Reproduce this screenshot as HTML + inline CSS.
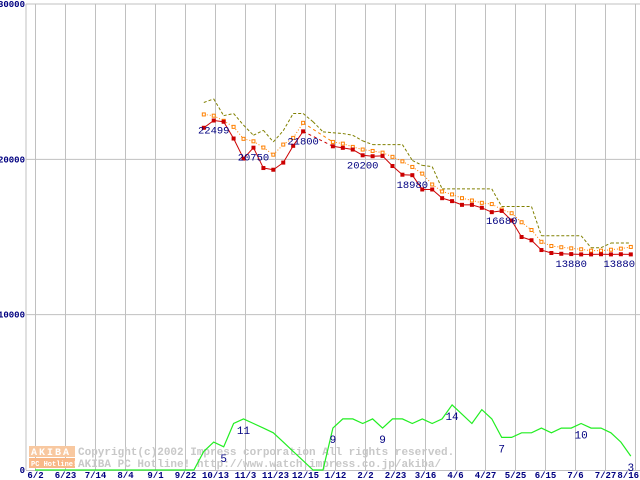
<!DOCTYPE html>
<html><head><meta charset="utf-8"><style>
body{margin:0;background:#fff;}
svg{display:block;}
text{font-family:"Liberation Mono","DejaVu Sans Mono",monospace;}
</style></head><body>
<svg id="chart" width="640" height="480" viewBox="0 0 640 480" xmlns="http://www.w3.org/2000/svg">
<g id="grid"></g>
<g id="watermark">
  <rect x="29" y="446" width="46" height="11" fill="#f8c8a0"/>
  <rect x="29" y="458" width="46" height="10" fill="#f8b888"/>
  <text x="31" y="455" font-size="10" font-weight="bold" fill="#fff" letter-spacing="2">AKIBA</text>
  <text x="31" y="466" font-size="7" font-weight="bold" fill="#fff">PC Hotline!</text>
  <text x="78" y="455" font-size="11" font-weight="bold" fill="#c8c8c8">Copyright(c)2002 Impress corporation All rights reserved.</text>
  <text x="78" y="467" font-size="11" font-weight="bold" fill="#c8c8c8">AKIBA PC Hotline! http://www.watch.impress.co.jp/akiba/</text>
</g>
<g id="series"></g>
<g id="labels"></g>
</svg>
<script>
const dateLabels = ["6/2","6/23","7/14","8/4","9/1","9/22","10/13","11/3","11/23","12/15","1/12","2/2","2/23","3/16","4/6","4/27","5/25","6/15","7/6","7/27","8/16"];
const priceTicks = [0,10000,20000,30000];
const priceStart = 17;
const minPrice = [22030,22499,22420,21340,20050,20750,19440,19330,19790,20870,21800,null,null,20840,20740,20630,20260,20200,20220,19570,19010,18980,18060,18060,17500,17310,17070,17070,16880,16600,16680,16060,15000,14790,14160,13970,13920,13900,13880,13880,13890,13880,13890,13880];
const avgPrice = [22890,22810,22480,22090,21320,21160,20760,20300,20950,21380,22350,null,null,21120,21010,20800,20630,20540,20430,20160,19870,19510,19080,18380,17930,17740,17500,17350,17200,17120,16770,16530,15950,15450,14690,14420,14340,14270,14210,14120,14120,14180,14250,14360];
const maxPrice = [23660,23890,22810,22950,22200,21550,21870,21120,21840,22950,22950,22420,21770,21710,21660,21550,21190,20950,20950,20950,20950,19930,19610,19530,18100,18100,18100,18100,18100,18100,16960,16960,16960,16960,15080,15080,15080,15080,15080,14310,14310,14610,14610,14610];
const shopCount = [0,0,0,0,0,0,0,0,0,0,0,0,0,0,0,0,0,4,6,5,10,11,10,9,8,6,4,2,0,0,9,11,11,10,11,9,11,11,10,11,10,11,14,12,10,13,11,7,7,8,8,9,8,9,9,10,9,9,8,6,3];
const priceLabelIdx = [1,5,10,16,21,30,37,42];
const priceLabelText = ["22499","20750","21800","20200","18980","16680","13880","13880"];
const countLabelIdx = [19,21,30,35,42,47,55,60];
const countLabelText = ["5","11","9","9","14","7","10","3"];

const NS="http://www.w3.org/2000/svg";
const X0=26, X1=640, Y0=470, YT=4;
function xw(i){return 35 + i*9.93;}
function yp(v){return Y0 - v/30000*(Y0-YT);}
function yc(v){return Y0 - v*4.65;}
function mk(tag,attrs,parent){const e=document.createElementNS(NS,tag);for(const k in attrs)e.setAttribute(k,attrs[k]);parent.appendChild(e);return e;}

const grid=document.getElementById('grid');
const series=document.getElementById('series');
const labels=document.getElementById('labels');

priceTicks.forEach(v=>{
  const y=yp(v);
  if(v>0){const l=mk('line',{x1:X0,x2:X1,y1:y,y2:y,stroke:'#c0c0c0','stroke-width':1},grid);
  
  }
  const t=mk('text',{x:25,y:y+3,'font-size':9,'font-weight':'bold',fill:'#000080','text-anchor':'end'},labels);
  t.textContent=String(v);
  
  
});
const ax=mk('line',{x1:X0,x2:X0,y1:YT,y2:Y0,stroke:'#c0c0c0'},grid);


const bx=mk('line',{x1:X0,x2:X1,y1:Y0+0.5,y2:Y0+0.5,stroke:'#c0c0c0'},grid);


dateLabels.forEach((d,k)=>{
  const x=Math.round(35+k*30)+0.5;
  const l=mk('line',{x1:x,x2:x,y1:YT,y2:Y0,stroke:'#c0c0c0'},grid);
  
  
  const last=k===dateLabels.length-1;
  const t=mk('text',{x:last?639:x,y:478,'font-size':9,'font-weight':'bold',fill:'#000080','text-anchor':last?'end':'middle'},labels);
  t.textContent=d;
  
  
});

let pts=shopCount.map((v,i)=>xw(i).toFixed(1)+','+yc(v).toFixed(1)).join(' ');
const gl=mk('polyline',{points:pts,fill:'none',stroke:'#22ee22','stroke-width':1.2},series);



function drawPrice(arr,name,color,dash,marker){
  const p=[];arr.forEach((v,j)=>{if(v!=null)p.push([xw(priceStart+j),yp(v),j]);});
  for(let k=0;k<p.length-1;k++){
    const a=p[k],b=p[k+1];const gap=b[2]-a[2]>1;
    const l=mk('line',{x1:a[0],y1:a[1],x2:b[0],y2:b[1],stroke:color,'stroke-width':1,'stroke-dasharray':gap?'3,3':dash},series);
    
    
  }
  if(marker){p.forEach(a=>{
    const r=mk('rect',marker==='fill'?{x:a[0]-2,y:a[1]-2,width:4,height:4,fill:color}:{x:a[0]-1.5,y:a[1]-1.5,width:3,height:3,fill:'#fff',stroke:color,'stroke-width':1},series);
    
    
  });}
}
drawPrice(maxPrice,'max-price','#808000','3,2',null);
drawPrice(avgPrice,'avg-price','#ff8000','1,2','hollow');
drawPrice(minPrice,'min-price','#cc0000','',"fill");

priceLabelIdx.forEach((j,k)=>{
  const v=minPrice[j];
  let x=xw(priceStart+j), anchor='middle';
  if(x>615){x=635;anchor='end';}
  const t=mk('text',{x:x,y:yp(v)+13,'font-size':10.5,fill:'#000080','text-anchor':anchor},labels);
  t.textContent=priceLabelText[k];
  
  
});
countLabelIdx.forEach((i,k)=>{
  const t=mk('text',{x:xw(i),y:yc(shopCount[i])+15,'font-size':11,fill:'#000080','text-anchor':'middle'},labels);
  t.textContent=countLabelText[k];
  
  
});
</script>
</body></html>
